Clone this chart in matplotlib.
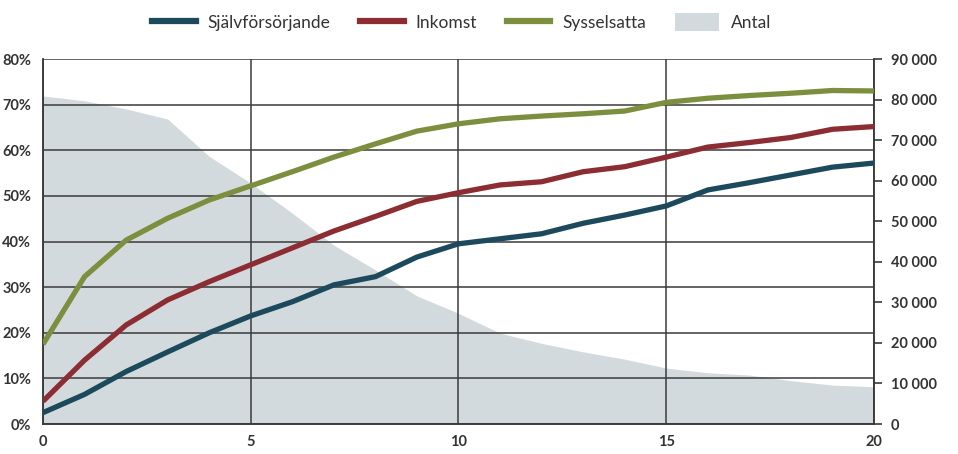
import matplotlib
matplotlib.use("Agg")
import matplotlib.pyplot as plt
from matplotlib.patches import Patch
from matplotlib.lines import Line2D
from matplotlib.ticker import FuncFormatter, FixedLocator

plt.rcParams['font.family'] = ['Lato', 'DejaVu Sans']

years = list(range(0, 21))
sjalv = [2.5, 6.5, 11.5, 15.8, 20.0, 23.7, 26.8, 30.5, 32.3, 36.6, 39.5, 40.6, 41.7, 44.0, 45.8,
         47.8, 51.3, 52.9, 54.6, 56.3, 57.2]
inkomst = [5.0, 14.0, 21.7, 27.2, 31.2, 34.9, 38.6, 42.3, 45.5, 48.8, 50.7, 52.4, 53.1, 55.3, 56.4,
           58.5, 60.7, 61.7, 62.8, 64.6, 65.2]
syssel = [17.5, 32.3, 40.3, 45.1, 49.1, 52.2, 55.3, 58.5, 61.4, 64.2, 65.8, 66.9, 67.5, 68.0, 68.6,
          70.5, 71.4, 72.0, 72.5, 73.1, 73.0]
antal = [80900, 79700, 77700, 75200, 66000, 59400, 52000, 44100, 38000, 31600, 27300, 22400, 19900,
         17800, 16000, 13800, 12650, 12080, 10700, 9600, 9200]

c_blue = '#1c4a5c'
c_red = '#8c2c33'
c_green = '#7b8f3f'
c_area = '#d3dadd'
grid_c = '#3a3a3a'
text_c = '#333333'

fig = plt.figure(figsize=(9.58, 4.54), dpi=100)
ax = fig.add_axes([0.0449, 0.066, 0.8674, 0.804])
ax2 = ax.twinx()
ax.set_zorder(ax2.get_zorder() + 1)
ax.patch.set_visible(False)

ax2.fill_between(years, antal, 0, color=c_area, lw=0)
ax2.set_ylim(0, 90000)
ax2.yaxis.set_major_locator(FixedLocator(range(0, 90001, 10000)))
ax2.yaxis.set_major_formatter(FuncFormatter(lambda v, p: f"{int(v):,}".replace(",", " ")))
ax2.tick_params(axis='y', length=6, width=1.2, color=grid_c, pad=6, labelsize=10.5,
                labelcolor=text_c)
for lab in ax2.get_yticklabels():
    lab.set_fontweight('bold')

ax.plot(years, sjalv, color=c_blue, lw=3.8, solid_capstyle='butt', zorder=5)
ax.plot(years, inkomst, color=c_red, lw=3.8, solid_capstyle='butt', zorder=5)
ax.plot(years, syssel, color=c_green, lw=3.8, solid_capstyle='butt', zorder=5)

ax.set_xlim(0, 20)
ax.set_ylim(0, 80)
ax.set_yticks(range(0, 81, 10))
ax.set_yticklabels([f"{v}%" for v in range(0, 81, 10)])
ax.set_xticks([0, 5, 10, 15, 20])
ax.tick_params(axis='y', length=0, pad=8.5, labelsize=10.5, labelcolor=text_c)
ax.tick_params(axis='x', length=0, pad=8, labelsize=10.5, labelcolor=text_c)
for lab in ax.get_yticklabels() + ax.get_xticklabels():
    lab.set_fontweight('bold')

ax.grid(True, color=grid_c, lw=1.1, zorder=1)
ax.set_axisbelow(True)

for a in (ax, ax2):
    for s in a.spines.values():
        s.set_color(grid_c)
        s.set_linewidth(1.1)
    a.spines['top'].set_visible(False)

handles = [Line2D([], [], color=c_blue, lw=4.5),
           Line2D([], [], color=c_red, lw=4.5),
           Line2D([], [], color=c_green, lw=4.5),
           Patch(facecolor=c_area, edgecolor='none')]
labels = ['Självförsörjande', 'Inkomst', 'Sysselsatta', 'Antal']
fig.legend(handles, labels, loc='center', bbox_to_anchor=(0.482, 0.951), ncol=4,
           frameon=False, fontsize=12.5, handlelength=2.5, handleheight=1.2,
           columnspacing=1.7, handletextpad=0.7, labelcolor=text_c,
           borderpad=0, borderaxespad=0)

fig.savefig('out.png', dpi=100)
